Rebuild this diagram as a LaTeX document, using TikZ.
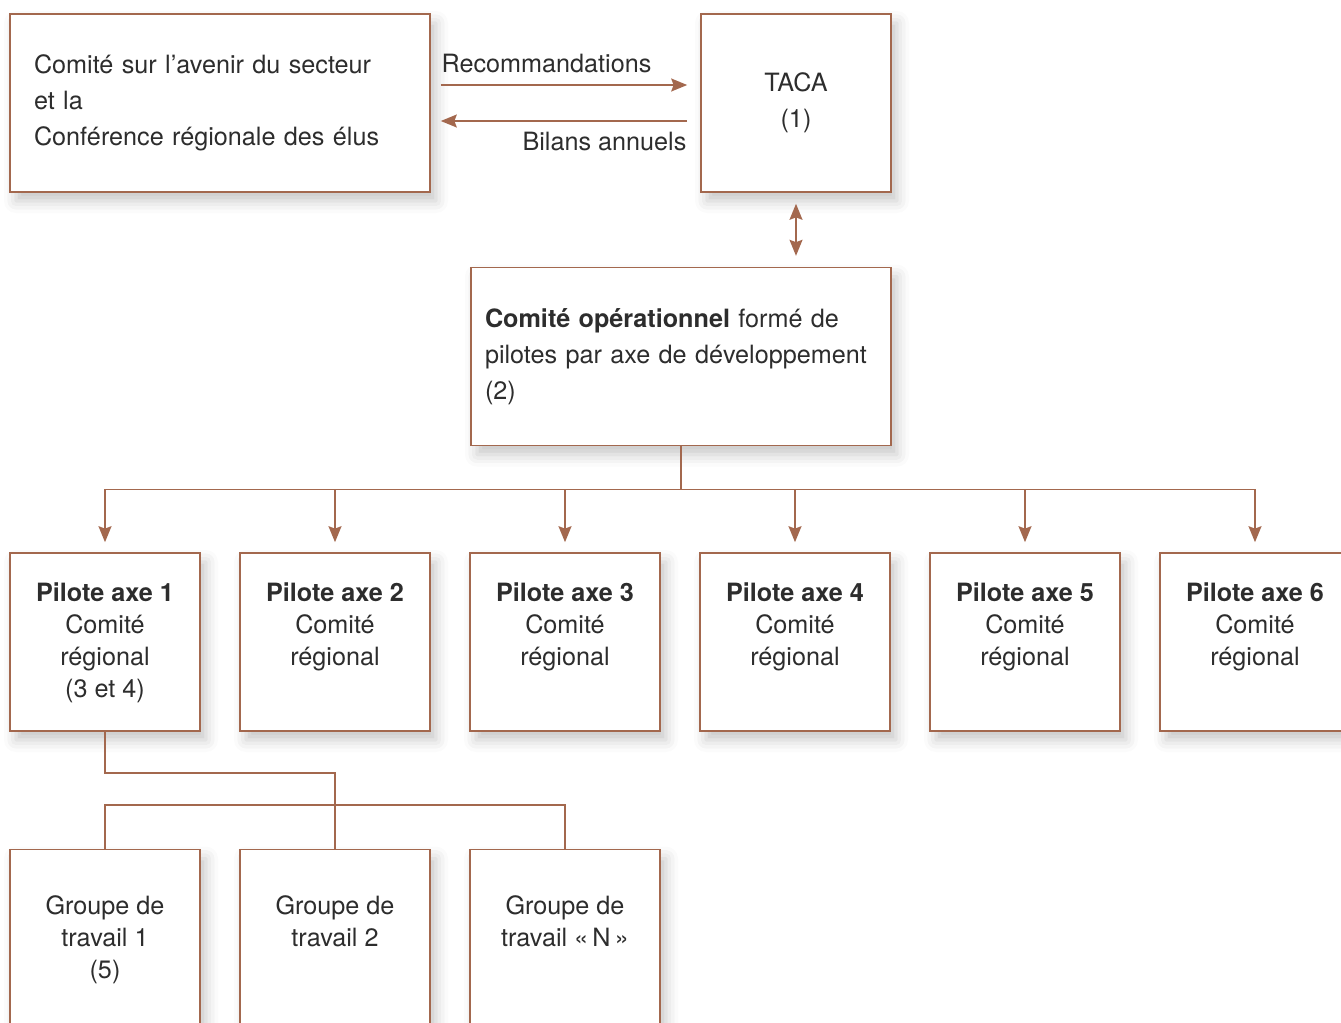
\documentclass[tikz,border=0pt]{standalone}
\usepackage{fontspec}
\setmainfont{TeX Gyre Heros}
\usetikzlibrary{arrows.meta,positioning,shadows.blur}
\definecolor{brun}{RGB}{163,104,78}
\definecolor{texte}{RGB}{45,45,45}

\begin{document}
\begin{tikzpicture}[
  x=0.5pt,y=-0.5pt,
  font=\fontsize{12.6}{18}\selectfont,
  text=texte,
  node distance=19.2pt,
  boite/.style={draw=brun,line width=0.8pt,fill=white,inner sep=0pt,
                blur shadow={shadow xshift=3pt,shadow yshift=-4.5pt,
                             shadow blur radius=6pt,shadow opacity=22}},
  haut/.style={boite,minimum width=95pt,minimum height=89pt,align=center},
  large/.style={boite,minimum width=210pt,minimum height=89pt,
                inner xsep=12pt,text width=186pt,align=left},
  pilote/.style={boite,minimum width=95pt,minimum height=89pt,
                 font=\fontsize{12.6}{16}\selectfont,
                 execute at begin node={\begin{minipage}[c][59pt][t]{90pt}\centering},
                 execute at end node={\end{minipage}}},
  groupe/.style={boite,minimum width=95pt,minimum height=100pt,
                 font=\fontsize{12.6}{16}\selectfont,
                 execute at begin node={\begin{minipage}[c][54pt][t]{90pt}\centering},
                 execute at end node={\end{minipage}}},
  ligne/.style={draw=brun,line width=0.8pt},
  fleche/.style={ligne,-{Stealth[length=8pt,width=6.5pt,inset=1.2pt]}},
  fleches/.style={ligne,{Stealth[length=8pt,width=6.5pt,inset=1.2pt]}-{Stealth[length=8pt,width=6.5pt,inset=1.2pt]}}]
\useasboundingbox (0,0) rectangle (1341,1023);
\clip (0,0) rectangle (1341,1023);

% instances du haut
\node[large] (comite) at (220,103) {Comité sur l’avenir du secteur\\et la\\Conférence régionale des élus};
\node[haut] (taca) at (796,103) {TACA\\(1)};
\node[large,inner xsep=7pt,text width=196pt,
      below=37pt of taca.south east,anchor=north east] (operation)
  {\textbf{Comité opérationnel} formé de\\pilotes par axe de développement\\(2)};

% pilotes par axe
\node[pilote] (p1) at (105,642) {\textbf{Pilote axe 1}\\Comité\\régional\\(3 et 4)};
\foreach \i [count=\j from 1] in {2,...,6}
  \node[pilote,right=of p\j] (p\i) {\textbf{Pilote axe \i}\\Comité\\régional};

% groupes de travail
\node[groupe,below=58.5pt of p1] (g1) {Groupe de\\travail 1\\(5)};
\node[groupe,right=of g1] (g2) {Groupe de\\travail 2};
\node[groupe,right=of g2] (g3) {Groupe de\\travail «\,N\,»};

\draw[fleche,shorten <=5pt,shorten >=6.5pt] ([yshift=9pt]comite.east) -- ([yshift=9pt]taca.west)
  node[pos=0,anchor=base west,xshift=5pt,yshift=6.5pt,inner sep=0pt] (reco) {Recommandations};
\draw[fleche,shorten <=6.5pt,shorten >=5pt] ([yshift=-9pt]taca.west) -- ([yshift=-9pt]comite.east)
  node[pos=0,anchor=base east,xshift=-6.5pt,yshift=-14.5pt,inner sep=0pt] (bilans) {Bilans annuels};
\draw[fleches,shorten <=5.5pt,shorten >=5.5pt] (taca.south) -- (operation.north -| taca.south);

\draw[ligne] (operation.south) -- ++(0,43) coordinate (bus);
\draw[ligne] (p1.north |- bus) -- (p6.north |- bus);
\foreach \i in {1,...,6}
  \draw[fleche,shorten >=5pt] (p\i.north |- bus) -- (p\i.north);

\draw[ligne] (p1.south) -- ++(0,41) -| (g2.north);
\draw[ligne] (g1.north) -- ++(0,-44) -| (g3.north);
\end{tikzpicture}
\end{document}
